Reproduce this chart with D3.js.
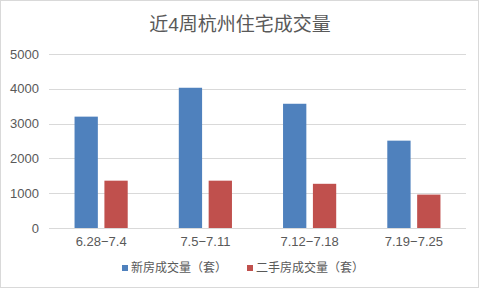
<!DOCTYPE html>
<html>
<head>
<meta charset="utf-8">
<script src="https://cdn.jsdelivr.net/npm/d3@7"></script>
<style>
  body { margin: 0; background: #fff; }
  text { font-family: "Liberation Sans", Arial, "Noto Sans CJK SC", sans-serif; fill: #595959; }
</style>
</head>
<body>
<div id="chart-area"></div>
<script>
/* Data */
var categories = ["6.28-7.4", "7.5-7.11", "7.12-7.18", "7.19-7.25"];
var seriesNames = ["新房成交量（套）", "二手房成交量（套）"];
var newHomes = [3200, 4030, 3570, 2510];
var resale = [1360, 1360, 1270, 960];
var yTicks = [0, 1000, 2000, 3000, 4000, 5000];
var colors = ["#4F81BD", "#C0504D"];

var W = 480, H = 289;
var margin = { left: 49, right: 14, top: 54, bottom: 61 };
var width = W - margin.left - margin.right;
var height = H - margin.top - margin.bottom;

var svg = d3.select("#chart-area").append("svg")
  .attr("width", W)
  .attr("height", H);

// outer frame
svg.append("rect")
  .attr("x", 0.5).attr("y", 0.5)
  .attr("width", W - 2).attr("height", H - 2)
  .attr("fill", "#fff")
  .attr("stroke", "#D9D9D9");

// title
svg.append("text")
  .attr("x", 240)
  .attr("y", 31)
  .attr("text-anchor", "middle")
  .attr("font-size", "19px")
  .text("近4周杭州住宅成交量");

var g = svg.append("g")
  .attr("transform", "translate(" + margin.left + ", " + margin.top + ")");

/* Scales */
var x = d3.scaleBand()
  .domain(categories)
  .range([0, width])
  .paddingInner(0)
  .paddingOuter(0);

var x1 = d3.scaleBand()
  .domain([0, 1])
  .range([x.bandwidth() * 0.245, x.bandwidth() * 0.755])
  .paddingInner(0.22);

var y = d3.scaleLinear()
  .domain([0, 5000])
  .range([height, 0]);

/* Gridlines */
g.selectAll(".grid")
  .data(yTicks)
  .enter()
  .append("line")
    .attr("x1", 0)
    .attr("x2", width)
    .attr("y1", (d) => Math.round(y(d)) + 0.5)
    .attr("y2", (d) => Math.round(y(d)) + 0.5)
    .attr("stroke", "#D9D9D9")
    .attr("stroke-width", 1);

/* Y axis */
var yAxisCall = d3.axisLeft(y)
  .tickValues(yTicks)
  .tickFormat(d3.format("d"))
  .tickSize(0)
  .tickPadding(10);

var yAxis = g.append("g").call(yAxisCall);
yAxis.select(".domain").remove();
yAxis.selectAll("text")
  .attr("font-size", "13px")
  .attr("font-family", null)
  .attr("fill", "#595959");

/* X axis */
var xAxisCall = d3.axisBottom(x).tickSize(0).tickPadding(9)
  .tickFormat((d) => d.replace("-", "−"));
var xAxis = g.append("g")
  .attr("transform", "translate(0, " + height + ")")
  .call(xAxisCall);
xAxis.select(".domain").remove();
xAxis.selectAll("text")
  .attr("font-size", "13px")
  .attr("font-family", null)
  .attr("fill", "#595959");

/* Bars */
var rows = categories.map((c, i) => ({ cat: c, vals: [newHomes[i], resale[i]] }));

var groups = g.selectAll(".grp")
  .data(rows)
  .enter()
  .append("g")
    .attr("transform", (d) => "translate(" + x(d.cat) + ",0)");

groups.selectAll("rect")
  .data((d) => d.vals.map((v, k) => ({ k: k, v: v })))
  .enter()
  .append("rect")
    .attr("x", (d) => x1(d.k))
    .attr("y", (d) => y(d.v))
    .attr("width", x1.bandwidth())
    .attr("height", (d) => height - y(d.v))
    .attr("fill", (d) => colors[d.k]);

/* Legend */
var legendX = [122, 247];
var legend = svg.selectAll(".legend")
  .data(seriesNames)
  .enter()
  .append("g")
    .attr("transform", (d, i) => "translate(" + legendX[i] + ", 265)");

legend.append("rect")
  .attr("width", 6).attr("height", 6)
  .attr("fill", (d, i) => colors[i]);

legend.append("text")
  .attr("x", 9)
  .attr("y", 7)
  .attr("font-size", "12px")
  .text((d) => d);
</script>
</body>
</html>
